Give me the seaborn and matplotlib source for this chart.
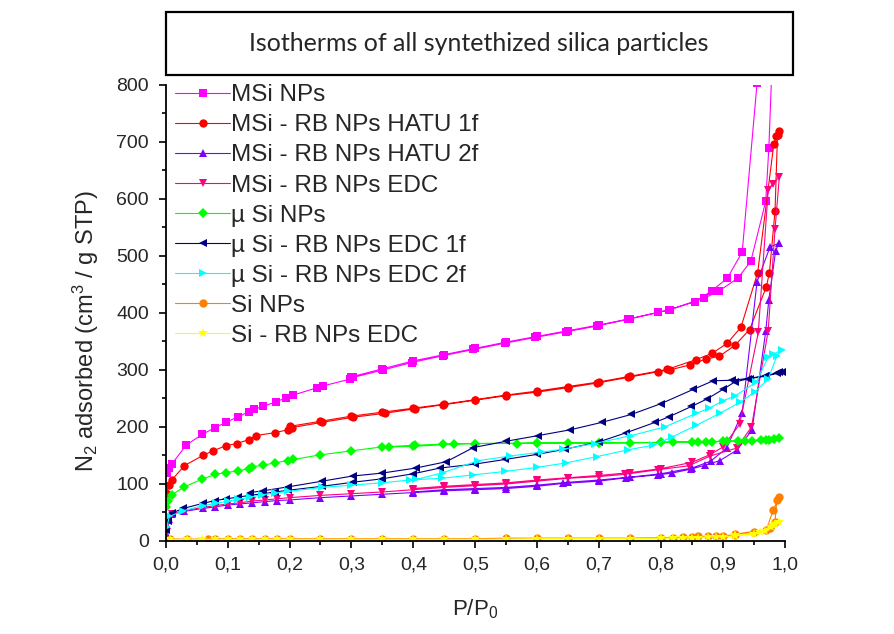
import matplotlib

matplotlib.use("Agg")
import matplotlib.pyplot as plt
import matplotlib.ticker as mticker
from matplotlib.patches import Rectangle
import seaborn as sns

# Each series is one path: adsorption branch up, then desorption branch back down
MSI_P = [0.002, 0.005, 0.01, 0.033, 0.059, 0.08, 0.097, 0.117, 0.135, 0.143, 0.157, 0.178, 0.194,
         0.206, 0.245, 0.254, 0.298, 0.303, 0.351, 0.397, 0.448, 0.497, 0.548, 0.596, 0.647, 0.696,
         0.747, 0.795, 0.814, 0.87, 0.894, 0.924, 0.945, 0.969, 0.974, 0.985,
         0.955, 0.931, 0.907, 0.882, 0.855, 0.812, 0.75, 0.7, 0.65, 0.6, 0.55, 0.5, 0.45, 0.4, 0.35, 0.3]
MSI_V = [119, 128, 135, 168, 187, 199, 208, 218, 227, 231, 236, 244, 251,
         256, 269, 272, 284, 287, 300, 313, 325, 336, 347, 357, 367, 377,
         389, 401, 406, 426, 439, 461, 491, 596, 689, 1000,
         803, 507, 461, 439, 420, 405, 390, 379, 369, 359, 349, 338, 327, 316, 302, 288]

HATU1_P = [0.001, 0.006, 0.01, 0.03, 0.06, 0.076, 0.097, 0.115, 0.135, 0.146, 0.176, 0.197, 0.204,
           0.252, 0.302, 0.354, 0.403, 0.448, 0.5, 0.55, 0.599, 0.65, 0.696, 0.747, 0.795, 0.814,
           0.847, 0.872, 0.894, 0.919, 0.943, 0.97, 0.975, 0.984, 0.988, 0.99,
           0.986, 0.982, 0.956, 0.929, 0.907, 0.882, 0.856, 0.81, 0.75, 0.7, 0.65, 0.6, 0.55, 0.5,
           0.45, 0.4, 0.35, 0.3, 0.25, 0.2]
HATU1_V = [84, 98, 107, 132, 150, 158, 167, 171, 178, 185, 190, 195, 199,
           208, 217, 224, 232, 239, 247, 255, 261, 269, 277, 287, 297, 300,
           309, 319, 324, 343, 371, 446, 471, 579, 712, 720,
           710, 696, 471, 375, 347, 329, 318, 301, 289, 279, 271, 263, 256, 248,
           240, 233, 226, 219, 210, 201]

HATU2_P = [0.002, 0.005, 0.01, 0.03, 0.06, 0.08, 0.1, 0.12, 0.14, 0.16, 0.18, 0.2, 0.25, 0.3,
           0.35, 0.4, 0.45, 0.5, 0.55, 0.6, 0.642, 0.7, 0.744, 0.795, 0.817, 0.848, 0.871, 0.895,
           0.923, 0.947, 0.969, 0.974, 0.985, 0.99,
           0.976, 0.955, 0.931, 0.906, 0.88, 0.85, 0.8, 0.75, 0.7, 0.65, 0.6, 0.55, 0.5, 0.45, 0.4]
HATU2_V = [10, 38, 47, 52, 57, 60, 63, 65, 67, 69, 71, 72, 76, 79,
           82, 85, 88, 90, 92, 96, 101, 105, 111, 116, 119, 126, 133, 141,
           160, 195, 368, 423, 509, 522,
           516, 455, 225, 163, 140, 128, 118, 112, 107, 103, 98, 94, 92, 90, 86]

EDC_P = [0.002, 0.005, 0.01, 0.03, 0.06, 0.08, 0.1, 0.12, 0.14, 0.16, 0.18, 0.2, 0.25, 0.3,
         0.35, 0.4, 0.45, 0.5, 0.55, 0.6, 0.65, 0.7, 0.742, 0.795, 0.845, 0.879, 0.922, 0.946,
         0.973, 0.984, 0.991,
         0.98, 0.973, 0.957, 0.927, 0.9, 0.88, 0.85, 0.8, 0.75, 0.7, 0.65, 0.6, 0.55, 0.5, 0.45, 0.4]
EDC_V = [15, 40, 48, 53, 59, 62, 65, 67, 70, 72, 74, 76, 80, 83,
         86, 90, 94, 97, 100, 105, 110, 113, 117, 125, 132, 149, 163, 200,
         369, 547, 639,
         627, 616, 366, 205, 165, 152, 138, 127, 120, 115, 111, 107, 102, 99, 96, 92]

USI_P = [0.001, 0.003, 0.01, 0.03, 0.058, 0.08, 0.097, 0.117, 0.135, 0.14, 0.157, 0.176, 0.197,
         0.206, 0.249, 0.299, 0.349, 0.403, 0.448, 0.5, 0.567, 0.6, 0.65, 0.7, 0.75, 0.8, 0.82,
         0.85, 0.872, 0.9, 0.924, 0.947, 0.969, 0.982, 0.99,
         0.975, 0.961, 0.936, 0.906, 0.883, 0.86, 0.8, 0.7, 0.6, 0.5, 0.465, 0.4, 0.36]
USI_V = [60, 70, 81, 95, 108, 117, 120, 123, 127, 130, 133, 137, 141,
         143, 151, 158, 165, 168, 170, 171, 171, 172, 172, 172, 172, 173, 174,
         174, 174, 175, 175, 176, 177, 179, 180,
         178, 177, 176, 175, 174, 174, 173, 172, 172, 171, 170, 166, 165]

USI1_P = [0.001, 0.003, 0.01, 0.028, 0.06, 0.08, 0.098, 0.117, 0.136, 0.157, 0.177, 0.198, 0.253,
          0.302, 0.349, 0.4, 0.443, 0.5, 0.548, 0.6, 0.645, 0.7, 0.744, 0.79, 0.813, 0.849, 0.874,
          0.9, 0.919, 0.943, 0.968, 0.987, 0.995,
          0.99, 0.97, 0.94, 0.914, 0.884, 0.852, 0.8, 0.752, 0.704, 0.653, 0.602, 0.55, 0.497,
          0.453, 0.404, 0.349, 0.302, 0.253, 0.198, 0.157, 0.136]
USI1_V = [19, 35, 49, 57, 66, 71, 74, 77, 80, 83, 86, 89, 96,
          103, 109, 118, 128, 135, 143, 152, 161, 174, 190, 208, 218, 236, 249,
          266, 279, 285, 289, 294, 297,
          296, 290, 285, 282, 281, 266, 241, 222, 208, 195, 185, 175, 164,
          139, 128, 119, 114, 105, 95, 88, 85]

USI2_P = [0.002, 0.006, 0.028, 0.06, 0.082, 0.1, 0.117, 0.136, 0.155, 0.176, 0.198, 0.253, 0.3,
          0.349, 0.394, 0.446, 0.497, 0.548, 0.599, 0.647, 0.696, 0.747, 0.787, 0.817, 0.857,
          0.895, 0.927, 0.952, 0.973, 0.987, 0.995,
          0.981, 0.973, 0.954, 0.919, 0.9, 0.878, 0.857, 0.806, 0.752, 0.693, 0.642, 0.607,
          0.556, 0.505, 0.448, 0.405]
USI2_V = [25, 43, 53, 62, 66, 70, 73, 77, 81, 84, 87, 94, 98,
          102, 107, 110, 116, 122, 129, 137, 148, 160, 168, 182, 203,
          224, 243, 262, 284, 325, 335,
          328, 323, 279, 254, 246, 233, 224, 200, 185, 171, 161, 156,
          149, 141, 120, 108]

SI_P = [0.007, 0.034, 0.068, 0.08, 0.1, 0.12, 0.14, 0.16, 0.18, 0.2, 0.25, 0.3, 0.35, 0.4, 0.45,
        0.5, 0.55, 0.6, 0.65, 0.7, 0.75, 0.8, 0.82, 0.835, 0.85, 0.86, 0.875, 0.888, 0.9, 0.92,
        0.95, 0.976, 0.984, 0.987, 0.991,
        0.981, 0.97, 0.92]
SI_V = [4, 3, 4, 4, 4, 4, 4, 4, 4, 4, 4, 4, 4, 4, 4,
        4, 5, 5, 5, 5, 5, 6, 6, 7, 7, 8, 8, 9, 9, 11,
        15, 22, 34, 72, 78,
        54, 20, 12]

SIRB_P = [0.007, 0.034, 0.058, 0.08, 0.1, 0.12, 0.14, 0.16, 0.18, 0.2, 0.25, 0.3, 0.35, 0.4, 0.45,
          0.5, 0.55, 0.6, 0.65, 0.7, 0.75, 0.8, 0.82, 0.835, 0.85, 0.86, 0.875, 0.888, 0.9, 0.92,
          0.95, 0.968, 0.978, 0.984, 0.99,
          0.98, 0.96, 0.92]
SIRB_V = [3, 3, 3, 3, 3, 3, 3, 3, 3, 3, 3, 3, 3, 3, 3,
          3, 3, 4, 4, 4, 4, 5, 5, 5, 6, 6, 7, 7, 7, 9,
          12, 18, 25, 30, 33,
          28, 15, 10]

LABELS = ["MSi NPs", "MSi - RB NPs HATU 1f", "MSi - RB NPs HATU 2f", "MSi - RB NPs EDC",
          "µ Si NPs", "µ Si - RB NPs EDC 1f", "µ Si - RB NPs EDC 2f", "Si NPs", "Si - RB NPs EDC"]
COLORS = ["#FF00FF", "#FF0000", "#8000FF", "#FF0080", "#00FF00", "#000080", "#00FFFF",
          "#FF8000", "#FFFF00"]
MARKERS = ["s", "o", "^", "v", "D", "<", ">", "o", "*"]
SIZES = [5.5, 6, 6, 6, 5, 6, 6, 6, 7]

series_p = [MSI_P, HATU1_P, HATU2_P, EDC_P, USI_P, USI1_P, USI2_P, SI_P, SIRB_P]
series_v = [MSI_V, HATU1_V, HATU2_V, EDC_V, USI_V, USI1_V, USI2_V, SI_V, SIRB_V]

sns.set_theme(style="ticks")
plt.rcParams["font.family"] = ["Liberation Sans", "DejaVu Sans"]
plt.rcParams["mathtext.default"] = "regular"

fig = plt.figure(figsize=(8.94, 6.34), dpi=100)
ax = fig.add_axes([0.1853, 0.1467, 0.6927, 0.7193])

for p, v, lab, col, mk, ms in zip(series_p, series_v, LABELS, COLORS, MARKERS, SIZES):
    sns.lineplot(x=p, y=v, sort=False, estimator=None, ax=ax, color=col, marker=mk,
                 markersize=ms, markeredgewidth=0, linewidth=0.8, label=lab)

ax.set_xlim(0, 1.0)
ax.set_ylim(0, 800)
sns.despine(ax=ax)
for s in ("left", "bottom"):
    ax.spines[s].set_linewidth(1.3)
    ax.spines[s].set_color("black")

ax.xaxis.set_major_locator(mticker.MultipleLocator(0.1))
ax.xaxis.set_minor_locator(mticker.MultipleLocator(0.05))
ax.yaxis.set_major_locator(mticker.MultipleLocator(100))
ax.yaxis.set_minor_locator(mticker.MultipleLocator(50))
ax.xaxis.set_major_formatter(mticker.FuncFormatter(lambda x, _: f"{x:.1f}".replace(".", ",")))
ax.tick_params(which="major", direction="out", length=5, width=1.2, labelsize=14,
               color="black", pad=6)
ax.tick_params(which="minor", direction="out", length=3, width=1.2, color="black")
ax.tick_params(axis="y", pad=7)

ax.set_xlabel("P/P$_0$", fontsize=16)
ax.set_ylabel("N$_2$ adsorbed (cm$^3$ / g STP)", fontsize=17)
ax.xaxis.set_label_coords(0.5, -0.123)
ax.yaxis.set_label_coords(-0.105, 0.46)

ax.legend(loc="upper left", bbox_to_anchor=(0.0, 1.022), frameon=False, fontsize=17.5,
          handlelength=2.26, handletextpad=0.05, labelspacing=0.33, borderpad=0.39,
          borderaxespad=0, numpoints=1)

# boxed title above the plot
fig.patches.append(Rectangle((0.1853, 0.8817), 0.7017, 0.0994, transform=fig.transFigure,
                             fill=False, edgecolor="black", linewidth=1.6))
fig.text(0.536, 0.931, "Isotherms of all syntethized silica particles", ha="center",
         va="center", fontsize=18, family=["Lato", "DejaVu Sans"])

fig.savefig("out.png", dpi=100)
